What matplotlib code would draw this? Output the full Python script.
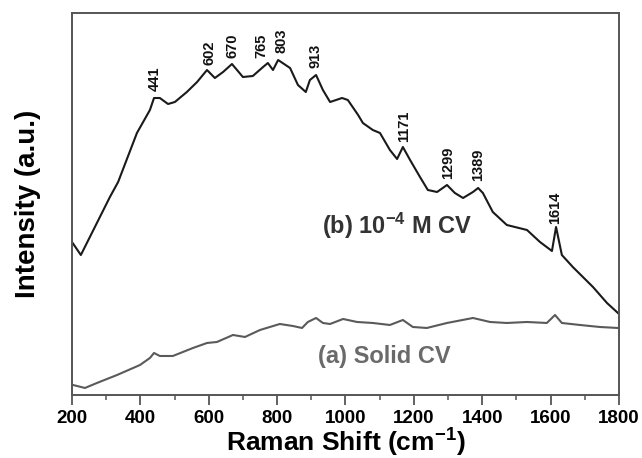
import numpy as np
import matplotlib
matplotlib.use("Agg")
import matplotlib.pyplot as plt
from matplotlib.ticker import MultipleLocator

# Curve (b): 10^-4 M CV (wavenumber cm^-1, intensity a.u.)
b_x = [200, 226, 311, 335, 390, 428, 440, 457, 481, 501, 536, 566, 595, 618, 642,
       668, 700, 729, 759, 773, 788, 803, 838, 861, 884, 896, 914, 934, 955, 990,
       1007, 1037, 1051, 1080, 1101, 1130, 1151, 1168, 1189, 1218, 1241, 1268,
       1297, 1320, 1344, 1373, 1388, 1402, 1431, 1472, 1531, 1569, 1604, 1616,
       1633, 1665, 1724, 1765, 1797]
b_y = [153, 140, 198, 213, 262, 285, 297, 297, 291, 293, 303, 313, 325, 317, 323,
       331, 318, 319, 328, 332, 325, 335, 327, 310, 303, 315, 320, 305, 293, 297,
       295, 280, 272, 265, 262, 245, 236, 248, 235, 218, 205, 203,
       210, 202, 197, 203, 207, 202, 183, 170, 165, 153, 144, 168,
       140, 128, 108, 92, 82]

# Curve (a): solid CV
a_x = [203, 238, 273, 332, 399, 428, 440, 457, 495, 554, 595, 624, 671, 706, 750,
       808, 846, 873, 890, 914, 934, 955, 993, 1034, 1080, 1130, 1168, 1197, 1238,
       1297, 1373, 1423, 1472, 1531, 1589, 1613, 1633, 1686, 1744, 1797]
a_y = [10, 7, 12, 20, 30, 37, 42, 39, 39, 47, 52, 53, 60, 58, 65,
       71, 69, 67, 73, 77, 72, 71, 76, 73, 72, 70, 75, 68, 67,
       72, 77, 73, 72, 73, 72, 80, 72, 70, 68, 67]

peaks = [441, 602, 670, 765, 803, 913, 1171, 1299, 1389, 1614]
# small horizontal nudges (points) so adjacent labels do not collide
peak_dx = [0, 0, 0, -2.5, 2.5, 0, 0, 0, 0, 0]

plt.rcParams['font.family'] = ['Liberation Sans', 'DejaVu Sans']
plt.rcParams['font.weight'] = 'bold'
plt.rcParams['mathtext.fontset'] = 'custom'
plt.rcParams['mathtext.rm'] = 'Liberation Sans:bold'
plt.rcParams['mathtext.bf'] = 'Liberation Sans:bold'
plt.rcParams['mathtext.default'] = 'bf'

fig = plt.figure(figsize=(6.42, 4.58), dpi=100)
ax = fig.add_axes([0.1121, 0.1376, 0.852, 0.834])

ax.plot(b_x, b_y, color='#1a1a1a', lw=1.5)
ax.plot(a_x, a_y, color='#5a5a5a', lw=1.5)

for p, dx in zip(peaks, peak_dx):
    py = np.interp(p, b_x, b_y)
    ax.annotate(str(p), xy=(p, py), xytext=(dx, 5), textcoords='offset points',
                rotation=90, ha='center', va='bottom', fontsize=10.5,
                fontweight='bold', color='#111111')

ax.text(931, 169, r'(b) 10$^{-4}$ M CV', fontsize=17, fontweight='bold',
        color='#333333', va='center', ha='left')
ax.text(919, 38, '(a) Solid CV', fontsize=17, fontweight='bold',
        color='#6a6a6a', va='center', ha='left')

ax.set_xlim(200, 1800)
ax.set_ylim(0, 382)
ax.xaxis.set_major_locator(MultipleLocator(200))
ax.xaxis.set_minor_locator(MultipleLocator(100))
ax.tick_params(axis='x', which='major', direction='out', length=7, width=1.3,
               color='#555555', labelsize=13.5, pad=4)
ax.tick_params(axis='x', which='minor', direction='out', length=3.5, width=1.1,
               color='#555555')
ax.set_yticks([])
for lbl in ax.get_xticklabels():
    lbl.set_fontweight('bold')
for s in ax.spines.values():
    s.set_color('#555555')
    s.set_linewidth(1.4)

ax.set_xlabel(r'Raman Shift (cm$^{-1}$)', fontsize=19, fontweight='bold',
              va='baseline')
ax.xaxis.set_label_coords(0.5, -0.149)
ax.set_ylabel('Intensity (a.u.)', fontsize=20, fontweight='bold', labelpad=22)

fig.savefig('out.png', dpi=100)
